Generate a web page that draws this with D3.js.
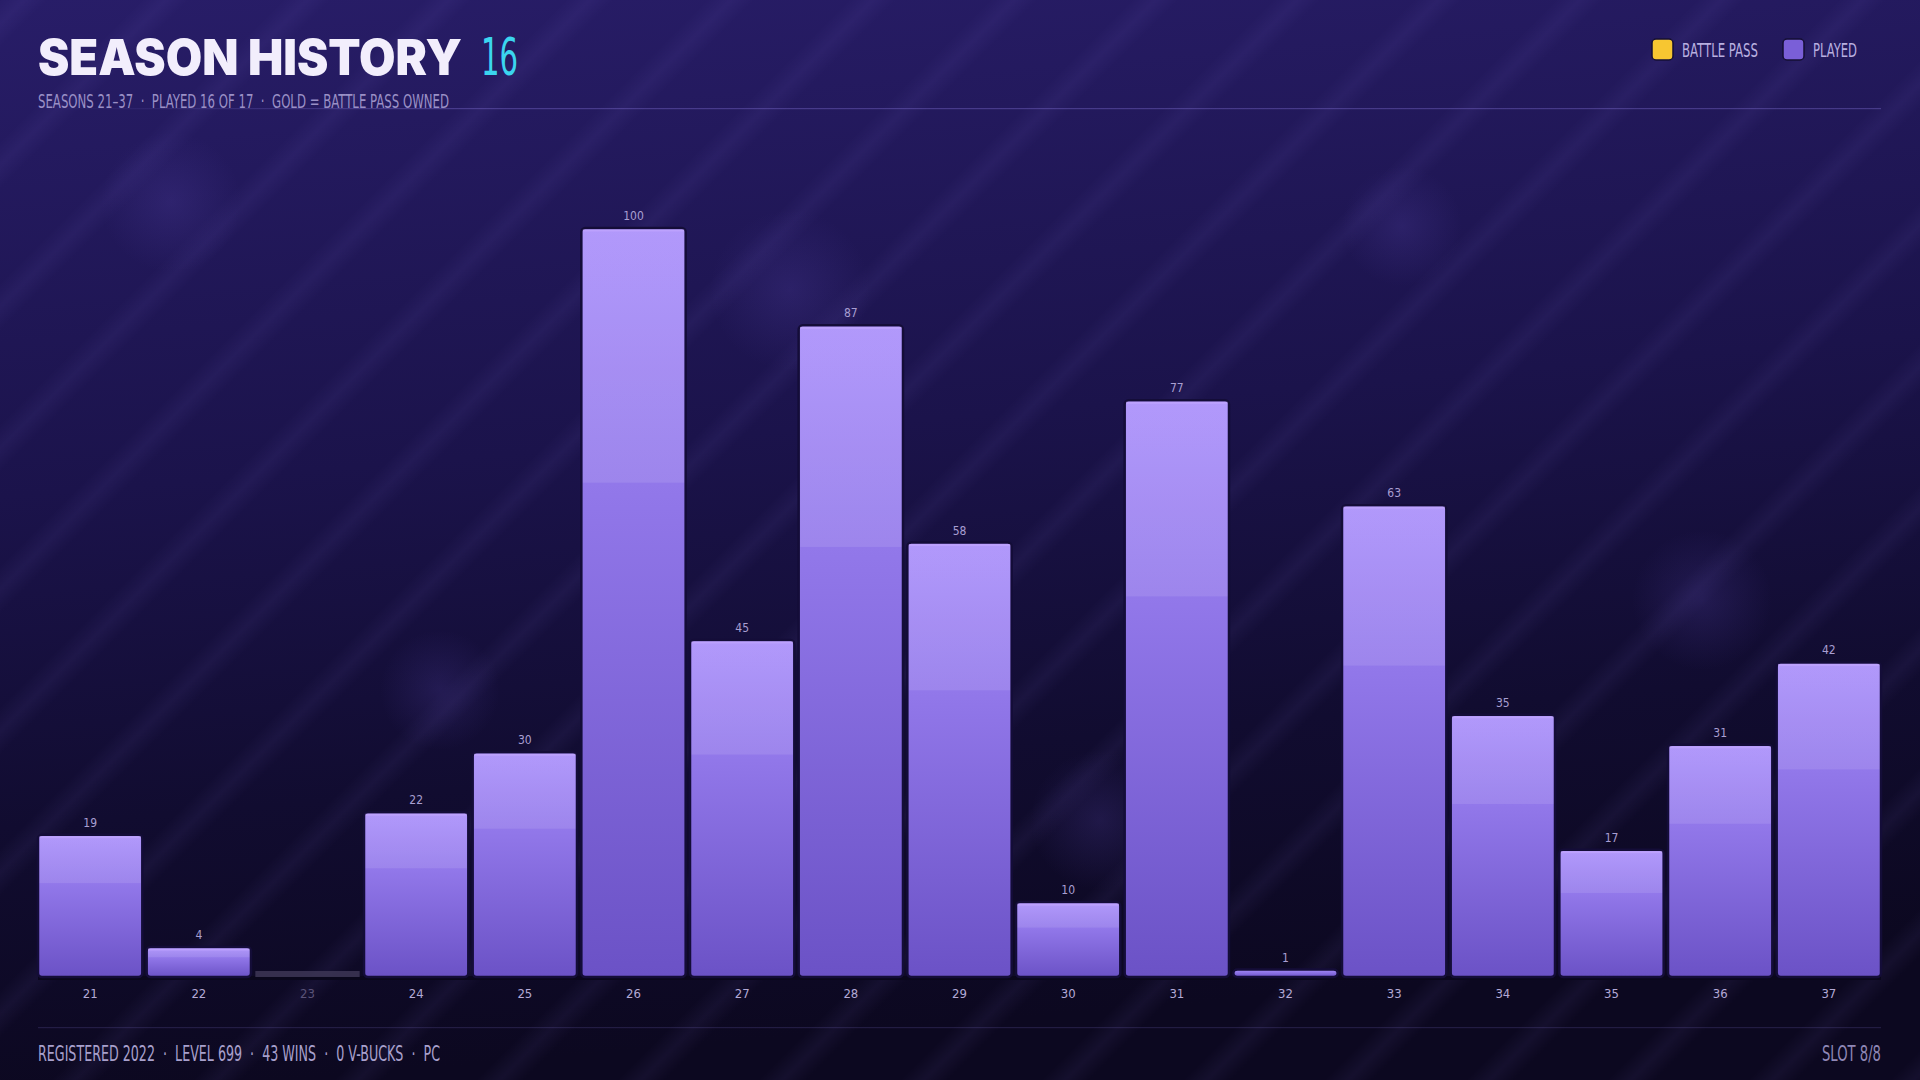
<!DOCTYPE html>
<html><head><meta charset="utf-8">
<script src="https://cdn.jsdelivr.net/npm/d3@7"></script>
<style>
html,body{margin:0;padding:0;background:#0e0a25;overflow:hidden;}
svg{display:block;}
text{white-space:pre;}
</style></head>
<body>
<svg id="c" width="1920" height="1080"></svg>
<script>
const seasons = ["21","22","23","24","25","26","27","28","29","30","31","32","33","34","35","36","37"];
const played  = [true,true,false,true,true,true,true,true,true,true,true,true,true,true,true,true,true];
const battlePass = [false,false,false,false,false,false,false,false,false,false,false,false,false,false,false,false,false];
const levels  = [19,4,0,22,30,100,45,87,58,10,77,1,63,35,17,31,42];
const yTicks = [0,100];
const titleText = "SEASON HISTORY";
const titleCount = "16";
const subtitle = "SEASONS 21–37  ·  PLAYED 16 OF 17  ·  GOLD = BATTLE PASS OWNED";
const footerLeft = "REGISTERED 2022  ·  LEVEL 699  ·  43 WINS  ·  0 V-BUCKS  ·  PC";
const footerRight = "SLOT 8/8";
const legendItems = ["BATTLE PASS","PLAYED"];
const legendColors = ["#f7c631","#7a5fd8"];

const W=1920,H=1080;
const svg=d3.select("#c");
const defs=svg.append("defs");
const cond="'Liberation Sans Narrow','DejaVu Sans Condensed','Roboto',sans-serif";

// background
const bg=defs.append("linearGradient").attr("id","bg").attr("x1",0).attr("y1",0).attr("x2",0.15).attr("y2",1);
bg.append("stop").attr("offset",0).attr("stop-color","#281d68");
bg.append("stop").attr("offset",0.45).attr("stop-color","#1b134b");
bg.append("stop").attr("offset",0.75).attr("stop-color","#110c30");
bg.append("stop").attr("offset",1).attr("stop-color","#0c0820");
svg.append("rect").attr("width",W).attr("height",H).attr("fill","url(#bg)");

const sg=defs.append("linearGradient").attr("id","sgrad").attr("x1",0).attr("y1",0).attr("x2",1).attr("y2",0);
sg.append("stop").attr("offset",0).attr("stop-color","#8a78e0").attr("stop-opacity",0);
sg.append("stop").attr("offset",0.5).attr("stop-color","#8a78e0").attr("stop-opacity",0.07);
sg.append("stop").attr("offset",1).attr("stop-color","#8a78e0").attr("stop-opacity",0);
const pat=defs.append("pattern").attr("id","stripes").attr("patternUnits","userSpaceOnUse")
  .attr("width",100).attr("height",100).attr("patternTransform","rotate(45)");
pat.append("rect").attr("x",0).attr("y",0).attr("width",34).attr("height",100).attr("fill","url(#sgrad)");
svg.append("rect").attr("width",W).attr("height",H).attr("fill","url(#stripes)");

const glow=defs.append("radialGradient").attr("id","glow");
glow.append("stop").attr("offset",0).attr("stop-color","#5a48b0").attr("stop-opacity",0.22);
glow.append("stop").attr("offset",1).attr("stop-color","#5a48b0").attr("stop-opacity",0);
[[171,202,70],[1402,226,60],[1702,600,70],[790,290,80],[440,690,60],[1100,820,70]].forEach(g=>{
  svg.append("circle").attr("cx",g[0]).attr("cy",g[1]).attr("r",g[2]).attr("fill","url(#glow)");
});

// header
svg.append("text").attr("x",38).attr("y",75).text(titleText)
  .attr("font-family","Inter,'DejaVu Sans',sans-serif").attr("font-weight",900).attr("font-size",49)
  .attr("fill","#f2eefc").attr("textLength",424).attr("lengthAdjust","spacingAndGlyphs");
svg.append("text").attr("x",481).attr("y",75).text(titleCount)
  .attr("font-family",cond).attr("font-size",52).attr("fill","#3bd5ef")
  .attr("textLength",37).attr("lengthAdjust","spacingAndGlyphs");
svg.append("text").attr("x",38).attr("y",108).text(subtitle)
  .attr("font-family",cond).attr("font-size",20).attr("fill","#9a90c6")
  .attr("textLength",411).attr("lengthAdjust","spacingAndGlyphs");

const hl=defs.append("linearGradient").attr("id","hline");
hl.append("stop").attr("offset",0).attr("stop-color","#8a78e0").attr("stop-opacity",0.0);
hl.append("stop").attr("offset",0.2).attr("stop-color","#8a78e0").attr("stop-opacity",0.35);
hl.append("stop").attr("offset",1).attr("stop-color","#8a78e0").attr("stop-opacity",0.35);
svg.append("rect").attr("x",38).attr("y",108).attr("width",1843).attr("height",1.2).attr("fill","url(#hline)");

// legend
const legX=[1652,1783], legTW=[76,44];
legendItems.forEach((t,i)=>{
  svg.append("rect").attr("x",legX[i]).attr("y",39).attr("width",21).attr("height",21).attr("rx",4)
    .attr("fill",legendColors[i]).attr("stroke","#150f35").attr("stroke-width",1.5);
  svg.append("text").attr("x",legX[i]+30).attr("y",57).text(t).attr("font-family",cond)
    .attr("font-size",19).attr("fill","#b9b0e0").attr("textLength",legTW[i]).attr("lengthAdjust","spacingAndGlyphs");
});

// scales
const x=d3.scaleBand().domain(seasons).range([38,1881]).paddingInner(0.04).paddingOuter(0);
const y=d3.scaleLinear().domain(d3.extent(yTicks)).range([977,228]);

const bgr=defs.append("linearGradient").attr("id","barg").attr("x1",0).attr("y1",0).attr("x2",0).attr("y2",1);
bgr.append("stop").attr("offset",0).attr("stop-color","#a98efb");
bgr.append("stop").attr("offset",0.34).attr("stop-color","#9278ea");
bgr.append("stop").attr("offset",1).attr("stop-color","#6b52c6");
const ov=defs.append("linearGradient").attr("id","barov").attr("x1",0).attr("y1",0).attr("x2",0).attr("y2",1);
ov.append("stop").attr("offset",0).attr("stop-color","#ffffff").attr("stop-opacity",0.1);
ov.append("stop").attr("offset",1).attr("stop-color","#ffffff").attr("stop-opacity",0.1);

const data=seasons.map((s,i)=>({s,v:levels[i],p:played[i],bp:battlePass[i]}));

// baseline
svg.append("rect").attr("x",38).attr("y",976).attr("width",1843).attr("height",4).attr("fill","#0a071c");

const g=svg.append("g");
data.forEach(d=>{
  const bx=x(d.s), bw=x.bandwidth();
  if(!d.p){
    g.append("rect").attr("x",bx).attr("y",y(0)-6).attr("width",bw).attr("height",6)
      .attr("fill","#3d3656").attr("opacity",0.85);
    return;
  }
  const top=y(d.v), h=y(0)-top;
  const hh=Math.max(h,7);
  g.append("rect").attr("x",bx).attr("y",y(0)-hh).attr("width",bw).attr("height",hh).attr("rx",4)
    .attr("fill",d.bp?"#f7c631":"url(#barg)").attr("stroke","#140d38").attr("stroke-width",2.5);
  if(h>12){
    g.append("rect").attr("x",bx+1.5).attr("y",top+1.5).attr("width",bw-3).attr("height",h*0.34-1.5)
      .attr("fill","url(#barov)");
    g.append("rect").attr("x",bx+1.5).attr("y",top+1.5).attr("width",bw-3).attr("height",2)
      .attr("fill","#c4a8ff").attr("opacity",0.6);
  }
  g.append("text").attr("x",bx+bw/2).attr("y",y(0)-hh-8).attr("text-anchor","middle")
    .text(d.v).attr("font-family",cond).attr("font-size",12).attr("fill","#a99fd2");
});

// x axis
const ax=svg.append("g").attr("transform","translate(0,980)").call(d3.axisBottom(x).tickSize(0).tickPadding(9));
ax.select(".domain").remove();
ax.selectAll("text").attr("font-family",cond).attr("font-size",13)
  .attr("fill",(d,i)=>played[i]?"#b3aad6":"#5a5378");

// footer
svg.append("rect").attr("x",38).attr("y",1027).attr("width",1843).attr("height",1.2).attr("fill","#8a78e0").attr("opacity",0.18);
svg.append("text").attr("x",38).attr("y",1061).text(footerLeft).attr("font-family",cond).attr("font-size",21)
  .attr("fill","#a8a0cc").attr("textLength",402).attr("lengthAdjust","spacingAndGlyphs");
svg.append("text").attr("x",1881).attr("y",1061).attr("text-anchor","end").text(footerRight).attr("font-family",cond).attr("font-size",21)
  .attr("fill","#8f87b6").attr("textLength",59).attr("lengthAdjust","spacingAndGlyphs");
</script>
</body></html>
